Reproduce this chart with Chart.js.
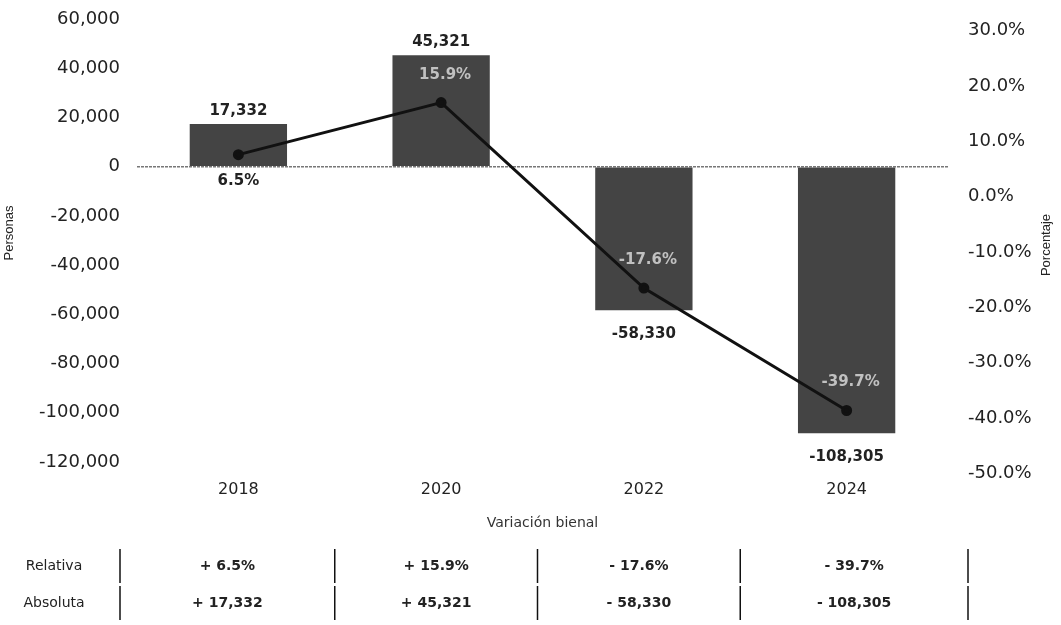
<!DOCTYPE html>
<html>
<head>
<meta charset="utf-8">
<script src="https://cdn.jsdelivr.net/npm/chart.js@4.4.1/dist/chart.umd.min.js"></script>
<style>
html, body { margin: 0; padding: 0; background: #fff; }
</style>
</head>
<body>
<canvas id="variacionChart" width="1061" height="625"></canvas>
<script>
// Variación bienal - datos
const years = ['2018', '2020', '2022', '2024'];
const absoluta = [17332, 45321, -58330, -108305];
const relativa = [6.5, 15.9, -17.6, -39.7];
const personasTicks = [-120000, -100000, -80000, -60000, -40000, -20000, 0, 20000, 40000, 60000];
const porcentajeTicks = [-50, -40, -30, -20, -10, 0, 10, 20, 30];

const FONT = "'DejaVu Sans', sans-serif";
const INK = '#222';

const fmtNum = v => v.toLocaleString('en-US');
const fmtPct = v => v.toFixed(1) + '%';
const signed = (v, f) => (v >= 0 ? '+ ' : '- ') + f(Math.abs(v));

// etiquetas de barras y de la línea
const labelsPlugin = {
    id: 'labels',
    afterDatasetsDraw(chart) {
        const ctx = chart.ctx;
        const bars = chart.getDatasetMeta(1).data;
        const pts = chart.getDatasetMeta(0).data;
        const zero = chart.scales.y.getPixelForValue(0);
        ctx.save();
        ctx.textAlign = 'center';
        ctx.textBaseline = 'middle';
        ctx.font = 'bold 15px ' + FONT;
        bars.forEach((b, i) => {
            const v = absoluta[i];
            ctx.fillStyle = INK;
            ctx.fillText(fmtNum(v), b.x, v >= 0 ? b.y - 13 : b.y + 24);
        });
        pts.forEach((p, i) => {
            const v = relativa[i];
            const barH = Math.abs(bars[i].y - zero);
            if (v >= 0 && barH < 60) {
                ctx.fillStyle = INK;
                ctx.fillText(fmtPct(v), p.x, zero + 14);
            } else {
                ctx.fillStyle = 'rgba(215,215,215,0.85)';
                ctx.fillText(fmtPct(v), p.x + 4, p.y - 28);
            }
        });
        ctx.restore();
    },
    afterDraw(chart) {
        const ctx = chart.ctx;
        const area = chart.chartArea;
        const xs = chart.scales.x;
        ctx.save();
        ctx.fillStyle = INK;
        ctx.textBaseline = 'middle';
        ctx.textAlign = 'center';

        // títulos de ejes
        ctx.font = '13px "Liberation Sans", Arial, sans-serif';
        [['Personas', 9, 233], ['Porcentaje', 1046, 245]].forEach(([t, x, y]) => {
            ctx.save();
            ctx.translate(x, y);
            ctx.rotate(-Math.PI / 2);
            ctx.fillText(t, 0, 0);
            ctx.restore();
        });
        ctx.font = '14px ' + FONT;
        ctx.fillStyle = '#333';
        ctx.fillText('Variación bienal', (area.left + area.right) / 2, 523);

        // tabla
        const centers = years.map((y, i) => xs.getPixelForValue(i));
        const seps = [area.left - 17];
        for (let i = 0; i < centers.length - 1; i++) seps.push((centers[i] + centers[i + 1]) / 2 - 5);
        seps.push(area.right + 20);
        const rows = [
            ['Relativa', 566, relativa.map(v => signed(v, fmtPct))],
            ['Absoluta', 603, absoluta.map(v => signed(v, fmtNum))]
        ];
        rows.forEach(([name, y, vals]) => {
            ctx.fillStyle = INK;
            ctx.font = '14px ' + FONT;
            ctx.fillText(name, 54, y);
            ctx.font = 'bold 14px ' + FONT;
            vals.forEach((t, i) => ctx.fillText(t, (seps[i] + seps[i + 1]) / 2, y));
            ctx.strokeStyle = '#111';
            ctx.lineWidth = 1.5;
            seps.forEach(sx => {
                ctx.beginPath();
                ctx.moveTo(sx, y - 17);
                ctx.lineTo(sx, y + 17);
                ctx.stroke();
            });
        });
        ctx.restore();
    }
};

// la altura del área la fija el padding del layout, no las etiquetas
const fitY = w => s => { s.width = w; s.paddingTop = 0; s.paddingBottom = 0; };

const ctx = document.getElementById('variacionChart').getContext('2d');
const variacionChart = new Chart(ctx, {
    data: {
        labels: years,
        datasets: [{
            type: 'line',
            label: 'Relativa',
            data: relativa,
            yAxisID: 'y1',
            borderColor: '#111',
            backgroundColor: '#111',
            borderWidth: 3,
            pointRadius: 4,
            pointBackgroundColor: '#111',
            pointBorderColor: '#111',
            order: 0
        }, {
            type: 'bar',
            label: 'Absoluta',
            data: absoluta,
            yAxisID: 'y',
            backgroundColor: '#444',
            categoryPercentage: 1,
            barPercentage: 0.48,
            order: 1
        }]
    },
    options: {
        responsive: false,
        animation: false,
        layout: { padding: { top: 19, left: 0, right: 0, bottom: 0 } },
        plugins: { legend: { display: false }, tooltip: { enabled: false } },
        scales: {
            x: {
                grid: { display: false, drawTicks: false },
                border: { display: false },
                ticks: { color: INK, padding: 18, font: { family: FONT, size: 16 } },
                afterFit: s => { s.height = 163; }
            },
            y: {
                position: 'left',
                min: -120000,
                max: 60000,
                afterBuildTicks: s => { s.ticks = personasTicks.map(v => ({ value: v })); },
                grid: {
                    drawTicks: false,
                    lineWidth: 1.5,
                    color: c => c.tick && c.tick.value === 0 ? '#777' : 'transparent'
                },
                border: { display: false, dash: [3, 1] },
                ticks: {
                    color: INK, padding: 17, autoSkip: false,
                    font: { family: FONT, size: 18 },
                    callback: v => fmtNum(v)
                },
                afterFit: fitY(137)
            },
            y1: {
                position: 'right',
                min: -49,
                max: 31,
                afterBuildTicks: s => { s.ticks = porcentajeTicks.map(v => ({ value: v })); },
                grid: { display: false, drawTicks: false },
                border: { display: false },
                ticks: {
                    color: INK, padding: 20, autoSkip: false, labelOffset: 6,
                    font: { family: FONT, size: 18 },
                    callback: v => fmtPct(v)
                },
                afterFit: fitY(113)
            }
        }
    },
    plugins: [labelsPlugin]
});
</script>
</body>
</html>
